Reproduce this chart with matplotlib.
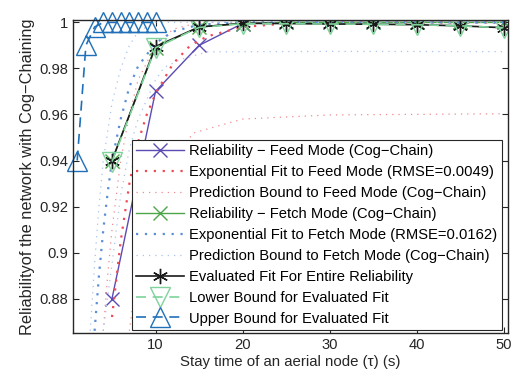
import matplotlib
matplotlib.use("Agg")
import matplotlib.pyplot as plt
from matplotlib.ticker import FormatStrFormatter

plt.rcParams['font.family'] = ['Liberation Sans', 'DejaVu Sans']
plt.rcParams['font.size'] = 10.6

# measured points (stay time in s)
tau = [5, 10, 15, 20, 25, 30, 35, 40, 45, 50]
feed_rel = [0.88, 0.97, 0.99, 0.9995, 1.0, 1.0, 1.0, 1.0, 1.0, 1.0]
fetch_rel = [0.94, 0.989, 0.998, 0.9995, 1.0, 1.0, 1.0, 1.0, 1.0, 1.0]
eval_fit = [0.94, 0.9895, 0.998, 0.9996, 0.9995, 0.9993, 0.9992, 0.999, 0.9985, 0.9977]
eval_low = [0.9395, 0.989, 0.9978, 0.9994, 0.9994, 0.9993, 0.9992, 0.999, 0.9985, 0.9977]

# upper bound of evaluated fit
tau_up = [1, 2, 3, 4, 5, 6, 7, 8, 9, 10]
eval_up = [0.94, 0.99, 0.998, 1.0, 1.0, 1.0, 1.0, 1.0, 1.0, 1.0]

# exponential fit, feed mode
feed_fit_x = [5, 6, 7, 8, 9, 10, 12, 14, 16, 20, 25, 30, 50]
feed_fit_y = [0.872, 0.905, 0.93, 0.948, 0.96, 0.969, 0.982, 0.99, 0.994, 0.998, 0.9995, 1.0, 1.0]
feed_pu_x = [4, 4.5, 5, 6, 7, 8, 10, 12, 15, 50]
feed_pu_y = [0.866, 0.89, 0.91, 0.94, 0.96, 0.975, 0.99, 0.997, 1.0, 1.0]
feed_pl_x = [7, 8, 10, 12, 14.4, 20, 30, 50]
feed_pl_y = [0.866, 0.895, 0.925, 0.941, 0.952, 0.958, 0.9598, 0.9603]

# exponential fit, fetch mode
fetch_fit_x = [3, 3.5, 4, 4.5, 5, 6, 7, 8, 10, 12, 15, 20, 50]
fetch_fit_y = [0.866, 0.89, 0.91, 0.926, 0.94, 0.958, 0.972, 0.981, 0.991, 0.996, 0.999, 1.0, 1.0]
fetch_pu_x = [2.5, 3, 3.5, 4, 5, 6, 7, 8, 10, 50]
fetch_pu_y = [0.866, 0.895, 0.92, 0.94, 0.965, 0.98, 0.99, 0.996, 1.0, 1.0]
fetch_pl_x = [4, 5, 6, 7, 8, 10, 11, 13, 16, 30, 50]
fetch_pl_y = [0.866, 0.895, 0.925, 0.945, 0.958, 0.975, 0.9805, 0.984, 0.9872, 0.9874, 0.9873]

fig = plt.figure(figsize=(5.13, 3.79), dpi=100)
ax = fig.add_axes([0.142, 0.121, 0.848, 0.826])

ax.plot(tau, feed_rel, color='#5b4cb4', lw=1.0, marker='x', ms=10, mew=1.0,
        label='Reliability \u2212 Feed Mode (Cog\u2212Chain)')
ax.plot(feed_fit_x, feed_fit_y, color='#f04a55', lw=1.6, ls=(0, (1, 3)),
        label='Exponential Fit to Feed Mode (RMSE=0.0049)')
ax.plot(feed_pu_x, feed_pu_y, color='#f08a8f', lw=0.9, ls=(0, (1, 4)),
        label='Prediction Bound to Feed Mode (Cog\u2212Chain)')
ax.plot(feed_pl_x, feed_pl_y, color='#f08a8f', lw=0.9, ls=(0, (1, 4)))
ax.plot(tau, fetch_rel, color='#4ea64b', lw=1.0, marker='x', ms=10, mew=1.0,
        label='Reliability \u2212 Fetch Mode (Cog\u2212Chain)')
ax.plot(fetch_fit_x, fetch_fit_y, color='#5b8ed6', lw=1.6, ls=(0, (1, 3)),
        label='Exponential Fit to Fetch Mode (RMSE=0.0162)')
ax.plot(fetch_pu_x, fetch_pu_y, color='#a9c3ea', lw=0.9, ls=(0, (1, 4)),
        label='Prediction Bound to Fetch Mode (Cog\u2212Chain)')
ax.plot(fetch_pl_x, fetch_pl_y, color='#a9c3ea', lw=0.9, ls=(0, (1, 4)))
ax.plot(tau, eval_fit, color='#1a1a1a', lw=1.2, marker=(6, 2, 0), ms=11, mew=1.0,
        label='Evaluated Fit For Entire Reliability')
ax.plot(tau, eval_low, color='#7ed39a', lw=1.2, ls=(0, (6, 4)), marker='v', ms=14,
        mfc='none', mew=1.0, label='Lower Bound for Evaluated Fit')
ax.plot(tau_up, eval_up, color='#1f70b8', lw=1.2, ls=(0, (6, 4)), marker='^', ms=14,
        mfc='none', mew=1.0, clip_on=False, label='Upper Bound for Evaluated Fit')

ax.set_xlim(0.5, 50.5)
ax.set_ylim(0.865, 1.001)
ax.set_xticks([10, 20, 30, 40, 50])
ax.set_yticks([0.88, 0.9, 0.92, 0.94, 0.96, 0.98, 1.0])
ax.yaxis.set_major_formatter(FormatStrFormatter('%g'))
ax.tick_params(direction='in', top=True, right=True, length=4, width=0.8,
               labelsize=10.6, colors='#262626')
for s in ax.spines.values():
    s.set_linewidth(1.0)
    s.set_color('#262626')

ax.set_xlabel('Stay time of an aerial node (\u03c4) (s)', fontsize=10.8, color='#262626', labelpad=2)
ax.set_ylabel('Reliabilityof the network with Cog\u2212Chaining', fontsize=11.8, color='#262626', labelpad=3)

leg = ax.legend(loc='lower left', bbox_to_anchor=(0.136, 0.01), borderaxespad=0,
                fancybox=False, framealpha=1, edgecolor='#262626', fontsize=10.6,
                handlelength=3.2, handletextpad=0.4, labelspacing=0.47, borderpad=0.3)
leg.get_frame().set_linewidth(0.8)

fig.savefig('out.png', dpi=100)
